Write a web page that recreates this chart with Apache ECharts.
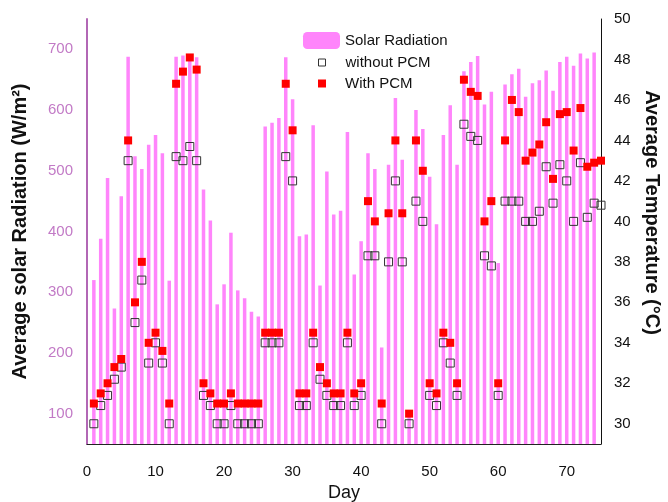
<!DOCTYPE html>
<html>
<head>
<meta charset="utf-8">
<script src="https://cdn.jsdelivr.net/npm/echarts@6/dist/echarts.min.js"></script>
<style>
  html, body { margin: 0; padding: 0; background: #fff; }
  #chart { width: 668px; height: 502px; }
</style>
</head>
<body>
<div id="chart"></div>
<script>
// Measurement day numbers
const days = [
  1, 2, 3, 4, 5, 6, 7, 8, 9, 10, 11, 12, 13, 14, 15, 16, 17, 18, 19, 20,
  21, 22, 23, 24, 25, 26, 27, 28, 29, 30, 31, 32, 33, 34, 35, 36, 37, 38, 39, 40,
  41, 42, 43, 44, 45, 46, 47, 48, 49, 50, 51, 52, 53, 54, 55, 56, 57, 58, 59, 60,
  61, 62, 63, 64, 65, 66, 67, 68, 69, 70, 71, 72, 73, 74, 75
];

// Daily average solar radiation, W/m² (days 1–74)
const solarRadiation = [
  320, 388, 488, 273, 458, 688, 524, 503, 543, 559, 529, 319, 688, 690, 690, 687, 469, 418, 280, 313,
  398, 303, 290, 268, 260, 573, 579, 587, 687, 618, 392, 395, 575, 311, 499, 428, 434, 564, 329, 384,
  529, 503, 209, 510, 620, 518, 105, 600, 569, 490, 412, 559, 608, 510, 664, 679, 689, 609, 630, 348,
  642, 659, 668, 622, 644, 649, 665, 632, 679, 688, 673, 693, 685, 695
];

// Average temperature without PCM, °C
const withoutPCM = [
  30, 30.9, 31.4, 32.2, 32.8, 43, 35, 37.1, 33, 34, 33, 30, 43.2, 43, 43.7, 43, 31.4, 30.9, 30, 30,
  30.9, 30, 30, 30, 30, 34, 34, 34, 43.2, 42, 30.9, 30.9, 34, 32.2, 31.4, 30.9, 30.9, 34, 30.9, 31.4,
  38.3, 38.3, 30, 38, 42, 38, 30, 41, 40, 31.4, 30.9, 34, 33, 31.4, 44.8, 44.2, 44, 38.3, 37.8, 31.4,
  41, 41, 41, 40, 40, 40.5, 42.7, 40.9, 42.8, 42, 40, 42.9, 40.2, 40.9, 40.8
];

// Average temperature with PCM, °C
const withPCM = [
  31, 31.5, 32, 32.8, 33.2, 44, 36, 38, 34, 34.5, 33.6, 31, 46.8, 47.4, 48.1, 47.5, 32, 31.5, 31, 31,
  31.5, 31, 31, 31, 31, 34.5, 34.5, 34.5, 46.8, 44.5, 31.5, 31.5, 34.5, 32.8, 32, 31.5, 31.5, 34.5, 31.5, 32,
  41, 40, 31, 40.4, 44, 40.4, 30.5, 44, 42.5, 32, 31.5, 34.5, 34, 32, 47, 46.4, 46.2, 40, 41, 32,
  44, 46, 45.4, 43, 43.4, 43.8, 44.9, 42.1, 45.3, 45.4, 43.5, 45.6, 42.7, 42.9, 43
];

// Axis tick labels
const dayTicks = [0, 10, 20, 30, 40, 50, 60, 70];
const radiationTicks = [100, 200, 300, 400, 500, 600, 700];
const temperatureTicks = [30, 32, 34, 36, 38, 40, 42, 44, 46, 48, 50];

const FONT = '"Liberation Sans", Arial, sans-serif';
const pairs = vals => vals.map((v, i) => [days[i], v]);

const chart = echarts.init(document.getElementById('chart'), null, { renderer: 'canvas' });

const legendText = { fontSize: 15, color: '#111', fontFamily: FONT };

chart.setOption({
  animation: false,
  backgroundColor: '#ffffff',
  textStyle: { fontFamily: FONT },
  grid: { left: 87, right: 67, top: 19, bottom: 58, outerBoundsMode: 'none', containLabel: false },
  legend: [
    {
      data: ['Solar Radiation'], left: 303, top: 32, padding: 0,
      itemWidth: 37, itemHeight: 17, textStyle: legendText
    },
    {
      data: ['without PCM'], left: 318, top: 55, padding: 0,
      itemWidth: 7, itemHeight: 7,
      itemStyle: { borderWidth: 1 },
      textStyle: Object.assign({ padding: [0, 0, 0, 15] }, legendText)
    },
    {
      data: ['With PCM'], left: 318, top: 76, padding: 0,
      itemWidth: 8, itemHeight: 8,
      textStyle: Object.assign({ padding: [0, 0, 0, 14] }, legendText)
    }
  ],
  xAxis: {
    type: 'value', min: 0, max: 75, interval: 10,
    name: 'Day', nameLocation: 'middle', nameGap: 39,
    nameTextStyle: { fontSize: 18, color: '#111', fontFamily: FONT },
    axisLine: { show: true, lineStyle: { color: '#222', width: 1 } },
    axisTick: { show: false },
    splitLine: { show: false },
    axisLabel: {
      fontSize: 15, color: '#111', margin: 20,
      formatter: v => (dayTicks.indexOf(v) >= 0 ? String(v) : '')
    }
  },
  yAxis: [
    {
      type: 'value', position: 'left', min: 50, max: 750, interval: 50,
      name: 'Average solar Radiation (W/m²)', nameLocation: 'middle', nameGap: 57, nameRotate: 90,
      nameTextStyle: { fontSize: 20, fontWeight: 'bold', color: '#111', fontFamily: FONT },
      axisLine: { show: true, lineStyle: { color: '#b267b5', width: 2 } },
      axisTick: { show: false },
      splitLine: { show: false },
      axisLabel: {
        fontSize: 15, color: '#c27ac6', margin: 14,
        formatter: v => (radiationTicks.indexOf(v) >= 0 ? String(v) : '')
      }
    },
    {
      type: 'value', position: 'right', min: 29, max: 50, interval: 1,
      name: 'Average Temperature (°C)', nameLocation: 'middle', nameGap: 41, nameRotate: -90,
      nameTextStyle: { fontSize: 20, fontWeight: 'bold', color: '#111', fontFamily: FONT, padding: [0, 38, 0, 0] },
      axisLine: { show: true, lineStyle: { color: '#111', width: 1 } },
      axisTick: { show: false },
      splitLine: { show: false },
      axisLabel: {
        fontSize: 15, color: '#111', margin: 13,
        formatter: v => (temperatureTicks.indexOf(v) >= 0 ? String(v) : '')
      }
    }
  ],
  series: [
    {
      name: 'Solar Radiation', type: 'bar', yAxisIndex: 0,
      data: pairs(solarRadiation), barWidth: 3.5,
      itemStyle: { color: '#ff85fb' }, z: 1
    },
    {
      name: 'without PCM', type: 'scatter', yAxisIndex: 1,
      data: pairs(withoutPCM), symbol: 'rect', symbolSize: 8, clip: false,
      itemStyle: { color: 'rgba(255,255,255,0)', borderColor: '#333', borderWidth: 1, opacity: 1 }, z: 3
    },
    {
      name: 'With PCM', type: 'scatter', yAxisIndex: 1,
      data: pairs(withPCM), symbol: 'rect', symbolSize: 8, clip: false,
      itemStyle: { color: '#ff0000', opacity: 1 }, z: 4
    }
  ]
});
</script>
</body>
</html>
